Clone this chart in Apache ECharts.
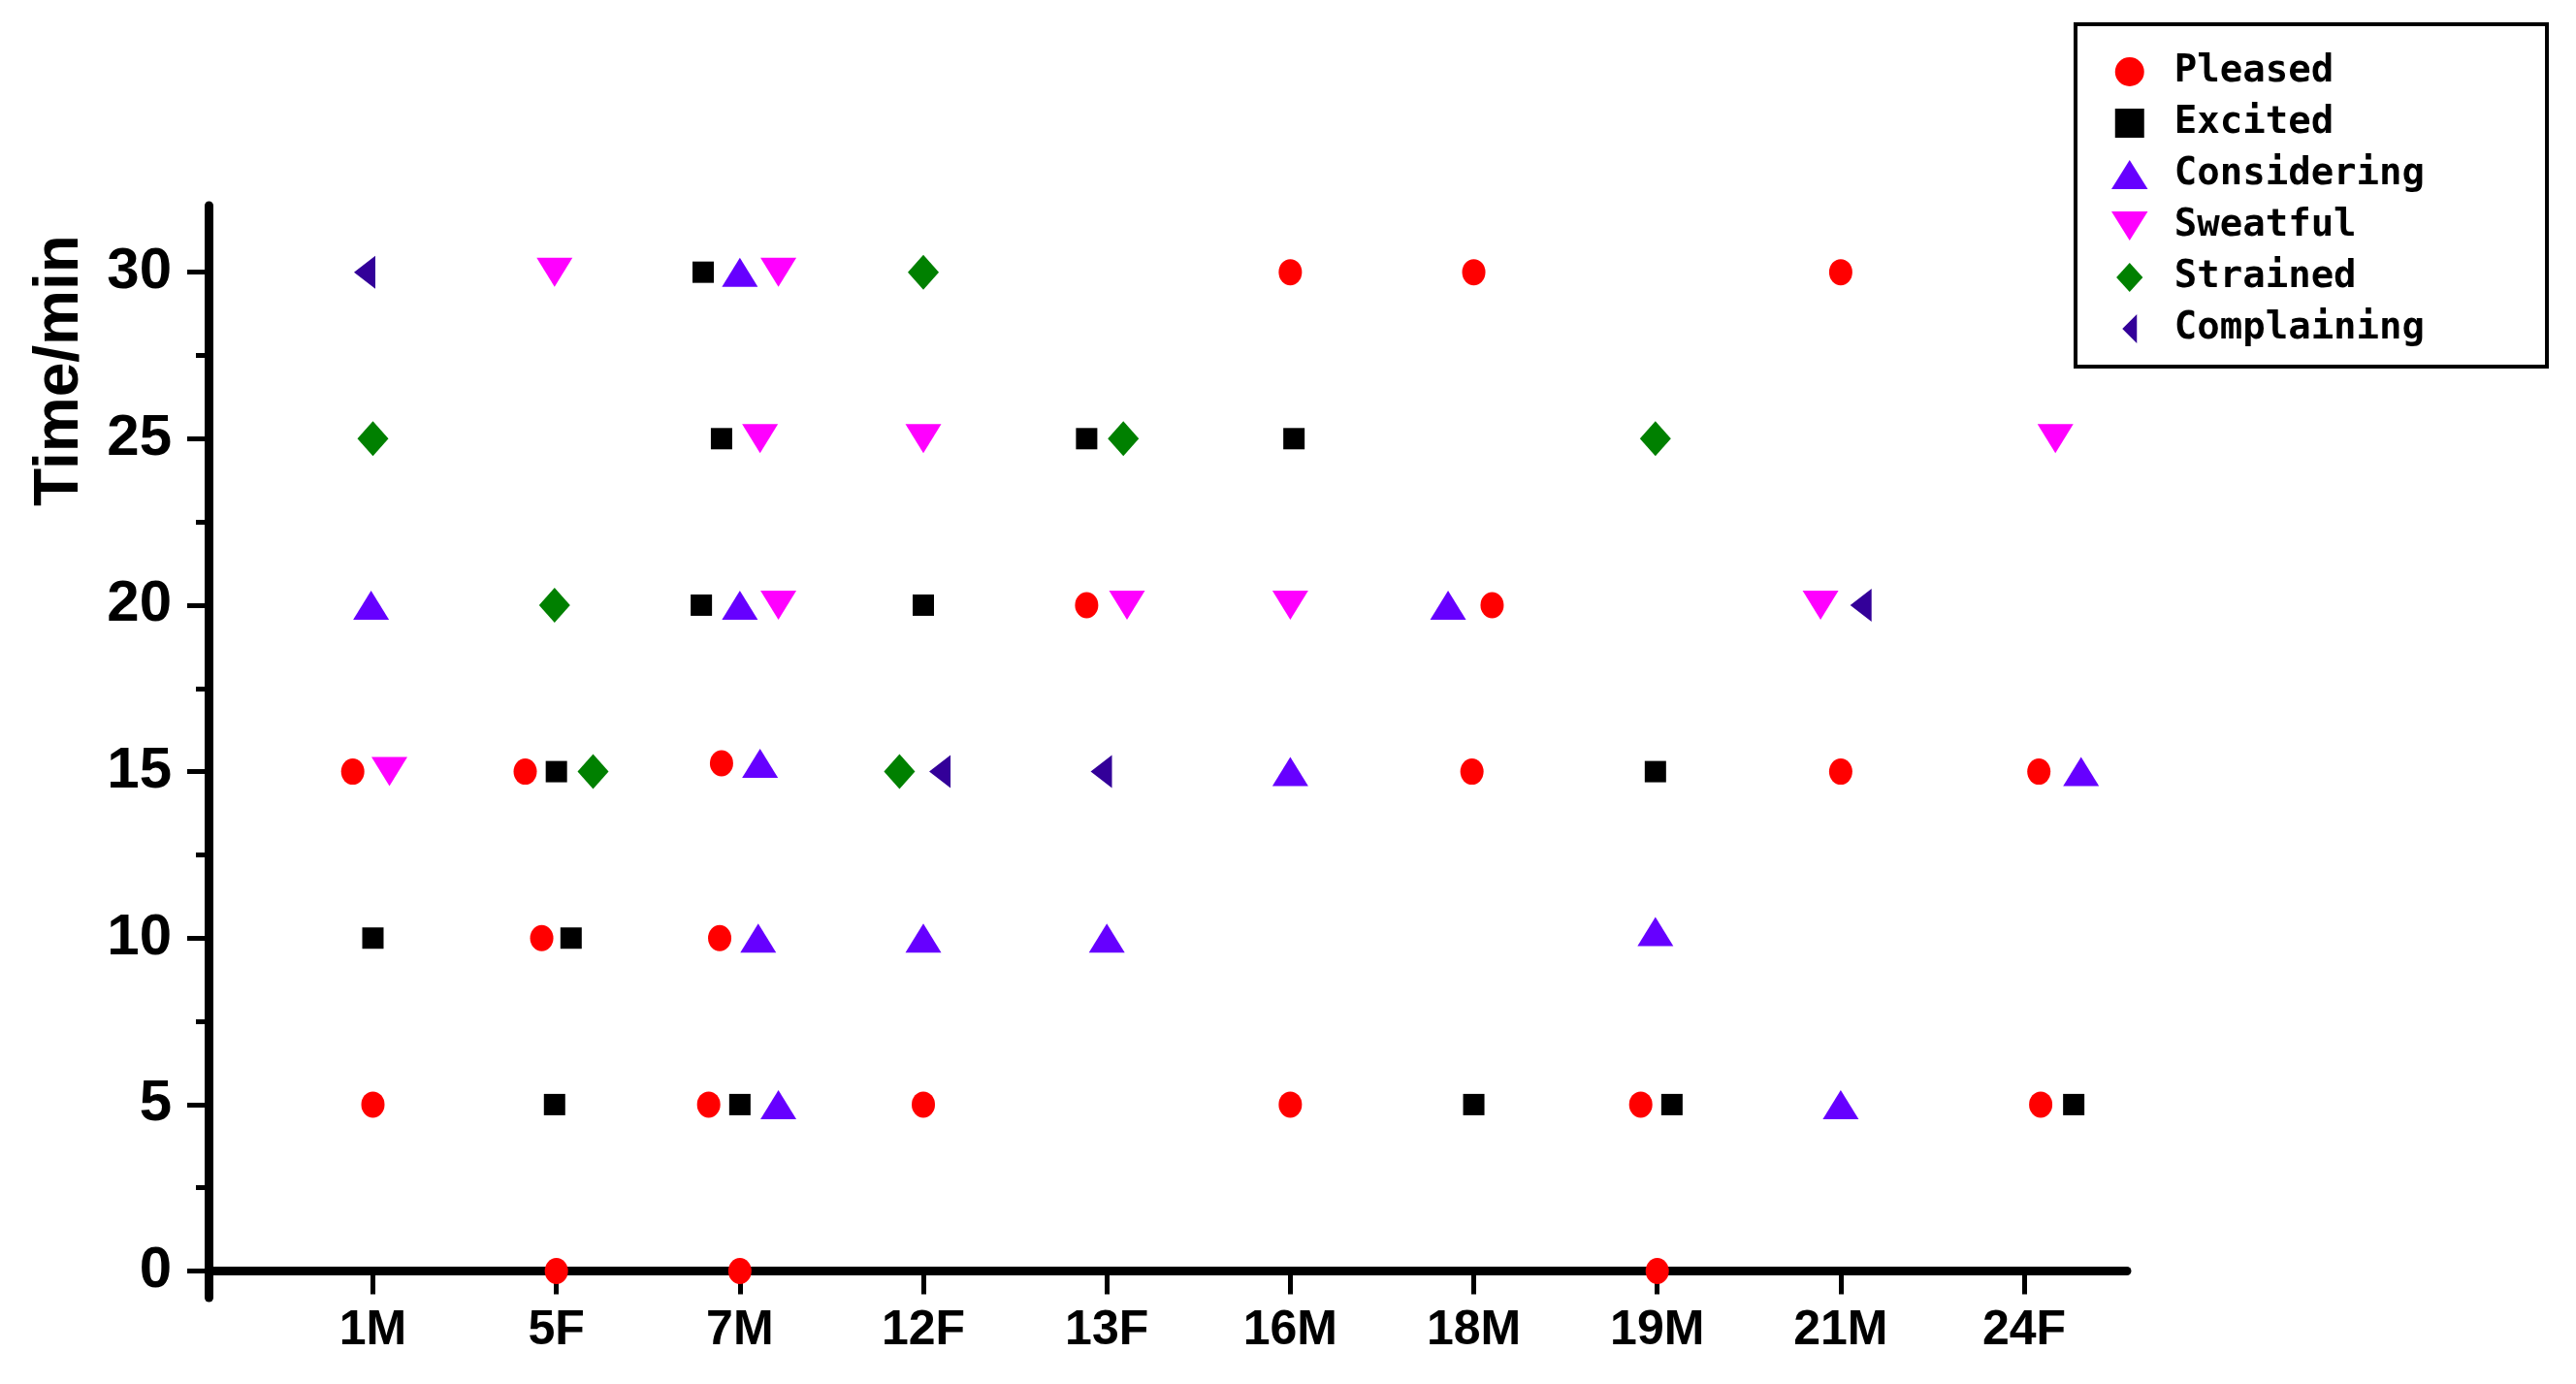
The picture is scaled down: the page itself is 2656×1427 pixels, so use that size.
<!DOCTYPE html>
<html>
<head>
<meta charset="utf-8">
<title>Emotion timeline</title>
<script src="https://cdn.jsdelivr.net/npm/echarts@6/dist/echarts.min.js"></script>
<style>
  html, body { margin: 0; padding: 0; background: #fff; }
  #chart { width: 2656px; height: 1427px; }
</style>
</head>
<body>
<div id="chart"></div>
<script>
// subjects on the x axis (positions 1..10)
const subjects = ['1M', '5F', '7M', '12F', '13F', '16M', '18M', '19M', '21M', '24F'];
const xTicks = [1, 2, 3, 4, 5, 6, 7, 8, 9, 10];
const yTicks = [0, 5, 10, 15, 20, 25, 30];
const yMinorTicks = [2.5, 7.5, 12.5, 17.5, 22.5, 27.5];

// [subject position (with the small side offset of the original), time in min]
const pleased = [
  [1.0, 5], [0.89, 15], [1.83, 15], [1.92, 10], [2.0, 0], [2.9, 15.25], [2.89, 10],
  [2.83, 5], [3.0, 0], [4.0, 5], [4.89, 20], [6.0, 30], [6.0, 5], [7.0, 30],
  [7.1, 20], [6.99, 15], [7.91, 5], [8.0, 0], [9.0, 30], [9.0, 15], [10.08, 15], [10.09, 5]
];
const excited = [
  [1.0, 10], [2.0, 15], [2.08, 10], [1.99, 5], [2.8, 30], [2.9, 25], [2.79, 20],
  [3.0, 5], [4.0, 20], [4.89, 25], [6.02, 25], [7.0, 5], [7.99, 15], [8.08, 5], [10.27, 5]
];
const considering = [
  [0.99, 20], [3.0, 30], [3.0, 20], [3.11, 15.25], [3.1, 10], [3.21, 5], [4.0, 10],
  [5.0, 10], [6.0, 15], [6.86, 20], [7.99, 10.2], [9.0, 5], [10.31, 15]
];
const sweatful = [
  [1.09, 15], [1.99, 30], [3.21, 30], [3.11, 25], [3.21, 20], [4.0, 25], [5.11, 20],
  [6.0, 20], [8.89, 20], [10.17, 25]
];
const strained = [
  [1.0, 25], [1.99, 20], [2.2, 15], [4.0, 30], [3.87, 15], [5.09, 25], [7.99, 25]
];
const complaining = [
  [0.955, 30], [4.09, 15], [4.97, 15], [9.11, 20]
];

const chart = echarts.init(document.getElementById('chart'));

// path symbols keep their shape in the legend icons
const square = 'path://M0,0L1,0L1,1L0,1Z';
const upTri = 'path://M1,0L2,1.6L0,1.6Z';
const downTri = 'path://M0,0L2,0L1,1.6Z';
const diamond = 'path://M1,0L2,1.1L1,2.2L0,1.1Z';
const leftTri = 'path://M0,1L1,0L1,2Z';

function scatter(name, data, symbol, size, color) {
  return {
    name,
    type: 'scatter',
    data,
    symbol,
    symbolSize: size,
    itemStyle: { color, opacity: 1 },
    emphasis: { disabled: true }
  };
}

chart.setOption({
  backgroundColor: '#fff',
  animation: false,
  grid: { left: 215, right: 463, top: 212, bottom: 89 },
  legend: {
    orient: 'vertical',
    left: 2140,
    top: 25,
    padding: [29, 126, 19, 37],
    itemWidth: 82,
    itemHeight: 30,
    itemGap: 13,
    symbolKeepAspect: true,
    borderColor: '#000',
    borderWidth: 4,
    textStyle: {
      fontFamily: "'DejaVu Sans Mono', monospace",
      fontWeight: 'bold',
      fontSize: 39,
      lineHeight: 40,
      color: '#000'
    },
    data: ['Pleased', 'Excited', 'Considering', 'Sweatful', 'Strained', 'Complaining']
  },
  graphic: [{
    type: 'text',
    x: 62,
    y: 382,
    rotation: Math.PI / 2,
    style: {
      text: 'Time/min',
      fontFamily: "'Liberation Sans', Arial, sans-serif",
      fontWeight: 'bold',
      fontSize: 64,
      fill: '#000',
      align: 'center',
      verticalAlign: 'middle'
    }
  }],
  xAxis: {
    type: 'value',
    min: 0.104,
    max: 10.56,
    splitLine: { show: false },
    axisLine: { show: true, onZero: true, lineStyle: { color: '#000', width: 9 } },
    axisTick: { show: true, length: 24, customValues: xTicks, lineStyle: { color: '#000', width: 5 } },
    axisLabel: {
      customValues: xTicks,
      formatter: (v) => subjects[Math.round(v) - 1],
      margin: 9,
      color: '#000',
      fontFamily: "'Liberation Sans', Arial, sans-serif",
      fontWeight: 'bold',
      fontSize: 50
    }
  },
  yAxis: [{
    type: 'value',
    min: -0.8,
    max: 32,
    splitLine: { show: false },
    axisLine: { show: true, lineStyle: { color: '#000', width: 9 } },
    axisTick: { show: true, length: 22, customValues: yTicks, lineStyle: { color: '#000', width: 5 } },
    axisLabel: {
      customValues: yTicks,
      margin: 38,
      color: '#000',
      fontFamily: "'Liberation Sans', Arial, sans-serif",
      fontWeight: 'bold',
      fontSize: 60
    }
  }, {
    type: 'value',
    min: -0.8,
    max: 32,
    position: 'left',
    splitLine: { show: false },
    axisLine: { show: false },
    axisLabel: { show: false },
    axisTick: { show: true, length: 13, customValues: yMinorTicks, lineStyle: { color: '#000', width: 5 } }
  }],
  series: [
    scatter('Pleased', pleased, 'circle', [24, 27], '#ff0000'),
    scatter('Excited', excited, square, 22, '#000000'),
    scatter('Considering', considering, upTri, [37, 30], '#6600ff'),
    scatter('Sweatful', sweatful, downTri, [37, 30], '#ff00ff'),
    scatter('Strained', strained, diamond, [32, 36], '#008000'),
    scatter('Complaining', complaining, leftTri, [22, 34], '#330099')
  ]
});
</script>
</body>
</html>
